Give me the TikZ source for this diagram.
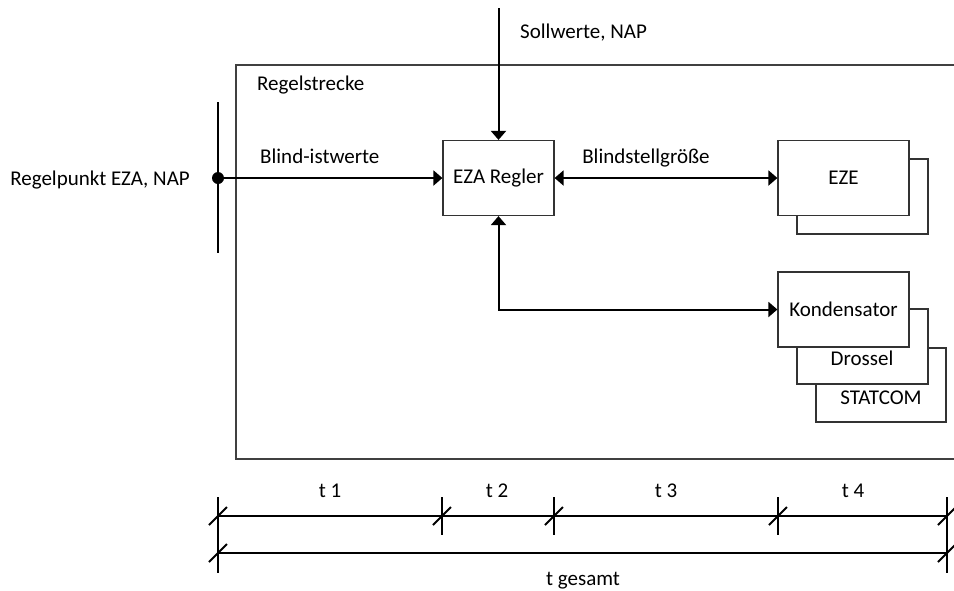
\documentclass[tikz,border=0pt]{standalone}
\usepackage{fontspec}
\setmainfont{Carlito}
\usetikzlibrary{arrows.meta}
\begin{document}
\begin{tikzpicture}[x=1pt,y=-1pt,
  every node/.style={font=\fontsize{21}{25}\selectfont, inner sep=0pt},
  blk/.style={draw=black!80, line width=1.2pt, fill=white,
              minimum width=131pt, minimum height=75pt},
  sig/.style={line width=2pt, -{Triangle[length=9pt,width=15pt]}},
  sigboth/.style={line width=2pt,
              {Triangle[length=9pt,width=15pt]}-{Triangle[length=9pt,width=15pt]}},
  dimline/.style={line width=2pt},
  frame/.style={draw=black!75, line width=2pt}]
\useasboundingbox (0,0) rectangle (954,590);

% plant frame (open to the right)
\draw[frame] (960,65) -- (236,65) -- (236,459) -- (960,459);
\node[anchor=base west] (regelstrecke) at (257,90) {Regelstrecke};

% controller
\node[blk, minimum width=111pt] (eza) at (498.5,178) {EZA Regler};

% generating units (stacked)
\node[blk] (ezeBack) at (862.5,196.5) {};
\node[blk] (eze) at (843.5,178) {EZE};

% compensation devices (stacked)
\node[blk, minimum width=130pt, minimum height=74pt] (statcom) at (881,385) {};
\node[blk] (drossel) at (862.5,346.5) {};
\node[blk] (kond) at (843.5,309.5) {Kondensator};
\node[anchor=base] (drosselTxt) at (862,365) {Drossel};
\node[anchor=base] (statcomTxt) at (881,404) {STATCOM};

% measuring point
\coordinate (barTop) at (218,102);
\coordinate (barBot) at (218,253);
\draw[line width=2pt] (barTop) -- (barBot);
\node[circle, fill=black, minimum size=12pt] (rp) at (218,178) {};
\node[anchor=base east] (rpTxt) at (190,185) {Regelpunkt EZA, NAP};

% set points
\coordinate (sollIn) at (498.5,8);
\draw[sig] (sollIn) -- (eza.north);
\node[anchor=base west] (sollTxt) at (520,38) {Sollwerte, NAP};

% signal paths
\draw[sig] (rp) -- (eza.west);
\node[anchor=base west] (istTxt) at (260,163) {Blind-istwerte};
\draw[sigboth] (eza.east) -- (eze.west);
\node[anchor=base] (stellTxt) at (646,163) {Blindstellgröße};
\draw[sigboth] (eza.south) |- (kond.west);

% time dimension lines
\coordinate (a0) at (218,516);
\coordinate (a1) at (442,516);
\coordinate (a2) at (554,516);
\coordinate (a3) at (778,516);
\coordinate (a4) at (947,516);
\coordinate (g0) at (218,553);
\coordinate (g1) at (947,553);
\draw[dimline] (a0) -- (a4);
\draw[dimline] (g0) -- (g1);
\foreach \x in {218,947}
  \draw[dimline] (\x,497) -- (\x,573);
\foreach \x in {442,554,778}
  \draw[dimline] (\x,497) -- (\x,535);
\foreach \x in {218,442,554,778,947}
  \draw[dimline] (\x-9,525) -- (\x+9,507);
\foreach \x in {218,947}
  \draw[dimline] (\x-9,562) -- (\x+9,544);

\node[anchor=base] (t1) at (330,497) {t 1};
\node[anchor=base] (t2) at (497,497) {t 2};
\node[anchor=base] (t3) at (666,497) {t 3};
\node[anchor=base] (t4) at (853,497) {t 4};
\node[anchor=base] (tges) at (583,585) {t gesamt};
\end{tikzpicture}
\end{document}
